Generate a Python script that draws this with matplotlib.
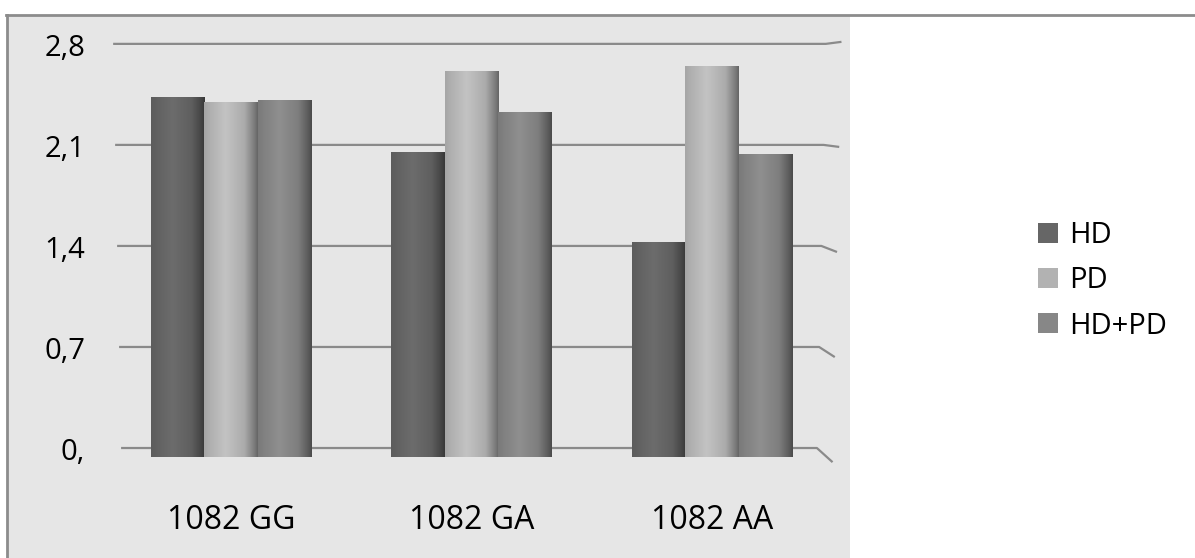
import matplotlib
matplotlib.use('Agg')
import matplotlib.pyplot as plt
import numpy as np
from matplotlib.lines import Line2D
from matplotlib.patches import Patch
from matplotlib.colors import to_rgb

plt.rcParams['font.family'] = ['Open Sans', 'DejaVu Sans']

categories = ['1082 GG', '1082 GA', '1082 AA']
series = ['HD', 'PD', 'HD+PD']
hd = [2.43, 2.05, 1.43]
pd_ = [2.40, 2.61, 2.65]
hd_pd = [2.41, 2.33, 2.04]
yticks = [0.0, 0.7, 1.4, 2.1, 2.8]
ytick_labels = ['0,', '0,7', '1,4', '2,1', '2,8']

colors = ['#666666', '#b8b8b8', '#878787']
grid_color = '#8a8a8a'

W, H = 1195, 558
fig = plt.figure(figsize=(W / 100, H / 100), dpi=100)
ax = fig.add_axes([7 / W, 0, (850 - 7) / W, (H - 15) / H])
ax.set_facecolor('#e6e6e6')

# cylinder shading profile across a bar
u = np.linspace(0, 1, 200)
shade = np.interp(u, [0, 0.1, 0.4, 0.75, 0.93, 1.0],
                  [0.9, 0.95, 1.06, 0.93, 0.68, 0.55])

x = np.arange(len(categories))
w = 0.222
depth = 0.06
for i, (vals, c) in enumerate(zip([hd, pd_, hd_pd], colors)):
    pos = x + (i - 1) * w
    bars = ax.bar(pos, np.array(vals) + depth, w, bottom=-depth, color=c,
                  linewidth=0, zorder=3)
    rgb = np.array(to_rgb(c))
    grad = np.clip(shade[:, None] * rgb[None, :], 0, 1)[None, :, :]
    for b in bars:
        x0, y0 = b.get_x(), b.get_y()
        im = ax.imshow(grad, extent=(x0, x0 + b.get_width(), y0, y0 + b.get_height()),
                       aspect='auto', zorder=3.5, interpolation='bilinear')
        im.set_clip_path(b)

# gridlines with a little perspective tail on the right
for t in yticks:
    k = (2.8 - t) / 2.8
    xl = -0.489 + 0.033 * k
    xr = 2.472 - 0.037 * k
    tail = 0.014 - 0.04 * (2.8 - t)
    ax.plot([xl, xr, xr + 0.065], [t, t, t + tail], color=grid_color,
            lw=1.6, zorder=1, solid_capstyle='butt')

for t, lab in zip(yticks, ytick_labels):
    ax.text((85 - 7) / (850 - 7), t - 0.03, lab, transform=ax.get_yaxis_transform(),
            ha='right', va='center', fontsize=21, color='#000000')

for xi, lab in zip(x, categories):
    ax.text(xi, -0.5, lab, ha='center', va='center', fontsize=23, color='#000000')

ax.set_xlim(-0.930, 2.5725)
ax.set_ylim(-0.762, 3.0)
ax.set_xticks([])
ax.set_yticks([])
for s in ['top', 'right', 'bottom']:
    ax.spines[s].set_visible(False)
ax.spines['left'].set_color('#8c8c8c')
ax.spines['left'].set_linewidth(2)

fig.add_artist(Line2D([6 / W, 1.0], [1 - 15 / H, 1 - 15 / H], color='#8c8c8c',
                      lw=2, transform=fig.transFigure))

handles = [Patch(facecolor=c, edgecolor='none') for c in ['#666666', '#b2b2b2', '#878787']]
fig.legend(handles, series, loc='center left', bbox_to_anchor=(1038 / W, 1 - 281 / H),
           frameon=False, fontsize=21, handlelength=0.68, handleheight=0.68,
           handletextpad=0.4, labelspacing=0.55, borderpad=0, borderaxespad=0)

fig.savefig('out.png', dpi=100)
